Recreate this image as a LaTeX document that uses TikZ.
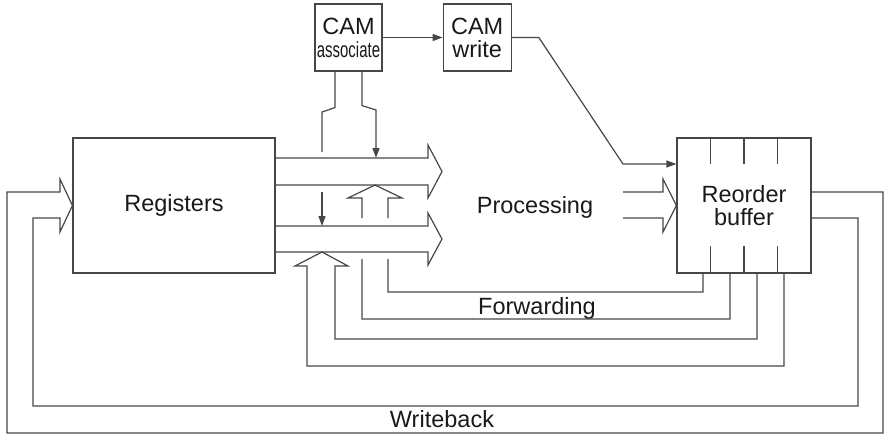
\documentclass[tikz,border=0pt]{standalone}
\usepackage{fontspec}
\setmainfont{Liberation Sans}
\usepackage{graphicx}
\usetikzlibrary{positioning,calc,arrows.meta}

\begin{document}
\begin{tikzpicture}[
  x=1pt,y=-1pt,
  >={Triangle[length=10pt,width=7pt]},
  line width=1.2pt,color=black!72,line join=miter,
  blk/.style={draw,align=center,inner sep=0pt,font=\fontsize{23.5}{23}\selectfont,text=black!90},
  lbl/.style={anchor=base,font=\fontsize{23.5}{23}\selectfont,text=black!90}]
\useasboundingbox (0,0) rectangle (884,434);
% blocks
\node[blk,minimum width=202pt,minimum height=135pt] (reg) at (174,205.5) {Registers};
\node[blk,minimum width=134pt,minimum height=135pt] (rob) at (744,205.5) {Reorder\\buffer};
\node[blk,minimum width=67pt,minimum height=67pt] (ca) at (348.5,37.5) {CAM\\{\fontsize{22}{20}\selectfont\scalebox{0.68}[1]{associate}}};
\node[blk,minimum width=68pt,minimum height=67pt,right=60pt of ca] (cw) {CAM\\write};
\foreach \f in {0.25,0.5,0.75} {
  \draw ($(rob.north west)!\f!(rob.north east)$) -- ++(0,27);
  \draw ($(rob.south west)!\f!(rob.south east)$) -- ++(0,-28);
}
% labels
\node[lbl] (proc) at (535,213) {Processing};
\node[lbl] (fwd) at (537,314) {Forwarding};
\node[lbl] (wb) at (442,427) {Writeback};
% buses out of the registers
\foreach \yt/\yb in {158/185,226/252} {
  \draw (reg.east |- 0,\yt) -- (428,\yt) -- (428,\yt-13) -- (442,{(\yt+\yb)/2})
    -- (428,\yb+13) -- (428,\yb) -- (reg.east |- 0,\yb);
}
% into the reorder buffer
\draw (623,192) -- (663,192) -- (663,179) -- (rob.west) -- (663,232) -- (663,218) -- (623,218);
\draw[->] (ca) -- (cw);
\draw[->] (cw.east) -- ++(27,0) -- (623,164) -- (rob.west |- 0,164);
% CAM tags to the buses
\draw ($(ca.south)+(-13.5,0)$) -- ++(0,36) -- (322,112) -- (322,152);
\draw[->] (322,192) -- (322,226);
\draw[->] ($(ca.south)+(13.5,0)$) -- ++(0,34) -- (376,110) -- (376,158);
% forwarding
\draw (rob.south -| 703,0) -- (703,292) -- (388,292) -- (388,259) (388,218) -- (388,198)
  -- (402,198) -- (375,185) -- (348,198) -- (362,198) -- (362,218) (362,259)
  -- (362,319) -- (730,319) -- (rob.south -| 730,0);
\draw (rob.south -| 757,0) -- (757,339) -- (335,339) -- (335,266) -- (348,266) -- (322,252)
  -- (295,266) -- (307,266) -- (307,366) -- (784,366) -- (rob.south -| 784,0);
% writeback
\draw (rob.east |- 0,192) -- (883,192) -- (883,433) -- (7,433) -- (7,192) -- (60,192)
  -- (60,179) -- (reg.west) -- (60,232) -- (60,218) -- (33,218) -- (33,406)
  -- (858,406) -- (858,218) -- (rob.east |- 0,218);
\end{tikzpicture}
\end{document}
